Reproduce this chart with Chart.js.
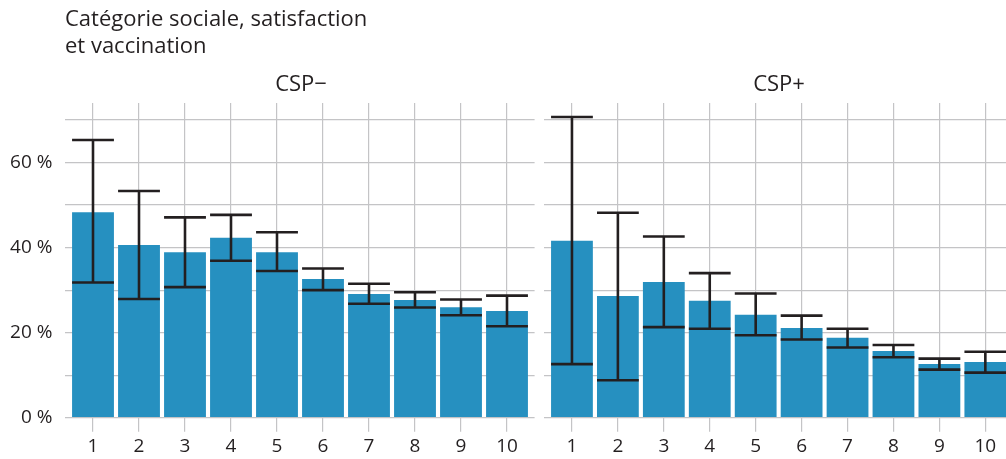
<!DOCTYPE html>
<html>
<head>
<meta charset="utf-8">
<script src="https://cdn.jsdelivr.net/npm/chart.js@4/dist/chart.umd.min.js"></script>
<style>
  html, body { margin: 0; padding: 0; background: #fff; }
  #wrap { position: relative; width: 1006px; height: 459px; overflow: hidden; font-family: "Open Sans", sans-serif; color: #231f20; }
  canvas { position: absolute; left: 0; top: 0; }
  .title { position: absolute; left: 65px; top: 4px; font-size: 22px; line-height: 27px; }
  .panel { position: absolute; top: 69px; font-size: 22px; line-height: 27px; transform: translateX(-50%); white-space: nowrap; }
</style>
</head>
<body>
<div id="wrap">
  <canvas id="cL" width="1006" height="459"></canvas>
  <canvas id="cR" width="1006" height="459"></canvas>
  <div class="title">Catégorie sociale, satisfaction<br>et vaccination</div>
  <div class="panel" id="tL" style="left:301px"></div>
  <div class="panel" id="tR" style="left:779px"></div>
</div>
<script>
// ---- data ----
const categories = ['1','2','3','4','5','6','7','8','9','10'];
const panelTitles = ['CSP−','CSP+'];
const yTicks = [0, 20, 40, 60];

const cspMinusValue = [48.3, 40.6, 38.9, 42.3, 38.9, 32.6, 29.1, 27.7, 26.0, 25.1];
const cspMinusLow   = [31.8, 27.9, 30.7, 36.9, 34.5, 30.0, 26.8, 25.9, 24.1, 21.5];
const cspMinusHigh  = [65.3, 53.3, 47.1, 47.7, 43.6, 35.1, 31.5, 29.5, 27.8, 28.7];

const cspPlusValue  = [41.6, 28.6, 31.9, 27.5, 24.2, 21.1, 18.8, 15.7, 12.6, 13.1];
const cspPlusLow    = [12.6,  8.8, 21.3, 20.9, 19.4, 18.4, 16.5, 14.2, 11.3, 10.6];
const cspPlusHigh   = [70.7, 48.2, 42.6, 34.0, 29.2, 24.0, 20.9, 17.1, 13.9, 15.5];

// ---- styling ----
const BAR = '#2690c0';
const INK = '#231f20';
const GRID = '#c4c4c6';
const FONT = '"Open Sans", sans-serif';

const errorBars = {
  id: 'errorBars',
  afterDatasetsDraw(chart, args, opts) {
    const ctx = chart.ctx;
    const xs = chart.scales.x, ys = chart.scales.y;
    const meta = chart.getDatasetMeta(0);
    ctx.save();
    ctx.beginPath();
    ctx.rect(chart.chartArea.left, 0, chart.chartArea.right - chart.chartArea.left, chart.height);
    ctx.clip();
    ctx.strokeStyle = INK;
    ctx.lineWidth = 2.6;
    opts.low.forEach((lo, i) => {
      const hi = opts.high[i];
      const x = xs.getPixelForValue(i + 1);
      const w = meta.data[i].width;
      const yl = ys.getPixelForValue(lo), yh = ys.getPixelForValue(hi);
      ctx.beginPath();
      ctx.moveTo(x, yl); ctx.lineTo(x, yh);
      ctx.moveTo(x - w / 2, yl); ctx.lineTo(x + w / 2, yl);
      ctx.moveTo(x - w / 2, yh); ctx.lineTo(x + w / 2, yh);
      ctx.stroke();
    });
    ctx.restore();
  }
};

function makeChart(id, values, low, high, side) {
  const left = side === 'L';
  return new Chart(document.getElementById(id), {
    type: 'bar',
    data: {
      datasets: [{
        data: values.map((v, i) => ({ x: i + 1, y: v })),
        backgroundColor: BAR,
        borderWidth: 0,
        categoryPercentage: 1,
        barPercentage: 0.91
      }]
    },
    options: {
      responsive: false,
      animation: false,
      events: [],
      layout: { padding: left ? { left: 0, right: 471.4, top: 103, bottom: 0 } : { left: 544.4, right: 0, top: 103, bottom: 0 } },
      plugins: {
        legend: { display: false },
        tooltip: { enabled: false },
        errorBars: { low, high }
      },
      scales: {
        x: {
          type: 'linear',
          offset: false,
          min: 0.4,
          max: left ? 10.6 : 10.45,
          afterBuildTicks(scale) { scale.ticks = categories.map((c, i) => ({ value: i + 1 })); },
          afterFit(scale) { scale.height = 459 - 417.7; },
          ticks: {
            autoSkip: false,
            maxRotation: 0,
            padding: 3,
            color: INK,
            font: { family: FONT, size: 19 },
            callback: (v) => categories[Math.round(v) - 1]
          },
          grid: { color: GRID, lineWidth: 1.2, tickLength: 14, drawOnChartArea: true, offset: false },
          border: { display: false }
        },
        y: {
          min: 0,
          max: 74,
          afterBuildTicks(scale) { scale.ticks = [0,10,20,30,40,50,60,70].map(v => ({ value: v })); },
          afterFit(scale) { scale.width = left ? 65.4 : 0; },
          ticks: {
            display: left,
            padding: 13,
            color: INK,
            font: { family: FONT, size: 19 },
            callback: (v) => yTicks.includes(v) ? v + ' %' : ''
          },
          grid: { color: GRID, lineWidth: 1.2, drawTicks: false },
          border: { display: false }
        }
      }
    },
    plugins: [errorBars]
  });
}

makeChart('cL', cspMinusValue, cspMinusLow, cspMinusHigh, 'L');
makeChart('cR', cspPlusValue, cspPlusLow, cspPlusHigh, 'R');
document.getElementById('tL').textContent = panelTitles[0];
document.getElementById('tR').textContent = panelTitles[1];
</script>
</body>
</html>
